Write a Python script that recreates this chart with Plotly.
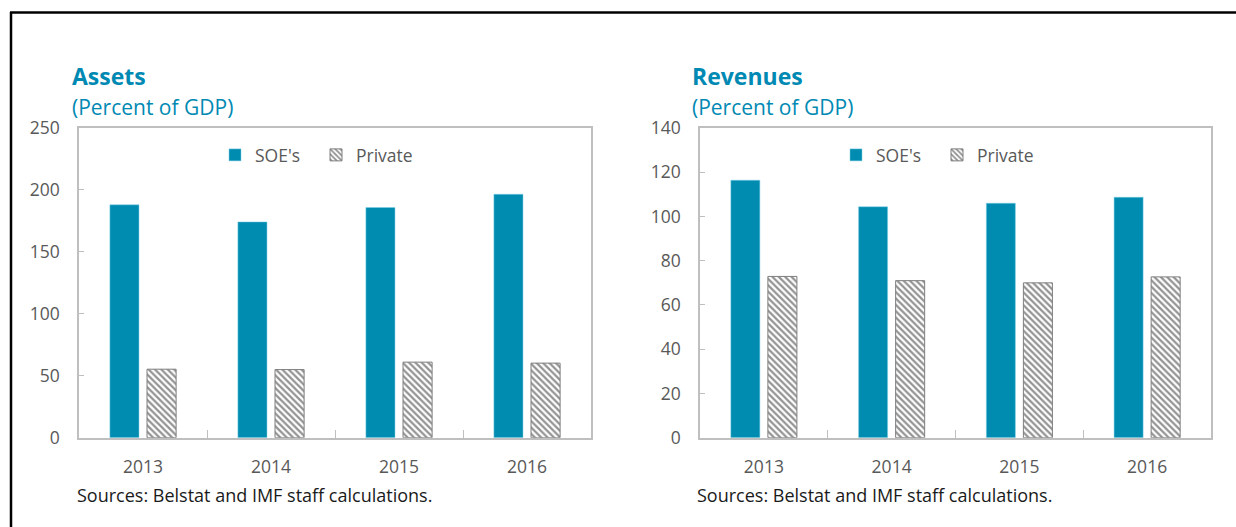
import plotly.graph_objects as go

W, H = 1236, 527

years = ["2013", "2014", "2015", "2016"]
assets_soe = [188, 174.2, 185.8, 196.5]
assets_private = [55.3, 55.0, 61.0, 60.2]
rev_soe = [116.4, 104.4, 106.0, 108.7]
rev_private = [72.9, 71.0, 70.0, 72.7]

SOE_COLOR = "#008BB0"
TITLE_COLOR = "#0089B3"
FONT = "Open Sans, Noto Sans, sans-serif"

def px(x):
    return x / W

def py(y):
    return 1 - y / H

fig = go.Figure()

pattern = dict(shape="\\", fgcolor="#262626", bgcolor="white", size=4.5, solidity=0.5)
soe_marker = dict(color=SOE_COLOR, line=dict(color="#7fd0e6", width=0.5))
priv_marker = dict(color="white", pattern=pattern, line=dict(color="#7f7f7f", width=1))

fig.add_trace(go.Bar(x=years, y=assets_soe, name="SOE's", marker=soe_marker,
                     xaxis="x", yaxis="y", legend="legend"))
fig.add_trace(go.Bar(x=years, y=assets_private, name="Private", marker=priv_marker,
                     xaxis="x", yaxis="y", legend="legend"))
fig.add_trace(go.Bar(x=years, y=rev_soe, name="SOE's", marker=soe_marker,
                     xaxis="x2", yaxis="y2", legend="legend2"))
fig.add_trace(go.Bar(x=years, y=rev_private, name="Private", marker=priv_marker,
                     xaxis="x2", yaxis="y2", legend="legend2"))

axis_common_x = dict(type="category", showline=True, mirror=True, linecolor="#BFBFBF", linewidth=1.5,
                     ticks="inside", tickson="boundaries", ticklen=8, tickcolor="#BFBFBF",
                     tickfont=dict(family=FONT, size=17.5, color="#595959"), ticklabelstandoff=13,
                     showgrid=False, zeroline=False, fixedrange=True, automargin=False)
axis_common_y = dict(showline=True, mirror=True, linecolor="#BFBFBF", linewidth=1.5,
                     ticks="inside", ticklen=5, tickcolor="#BFBFBF",
                     tickfont=dict(family=FONT, size=17.5, color="#595959"), ticklabelstandoff=14,
                     showgrid=False, zeroline=False, fixedrange=True, automargin=False)

y_dom = [py(437.7), py(128)]

legend_common = dict(orientation="h", xanchor="left", y=py(155), yanchor="middle",
                     font=dict(family=FONT, size=17.5, color="#595959"), bgcolor="rgba(0,0,0,0)",
                     entrywidth=56, entrywidthmode="pixels", traceorder="normal")

fig.update_layout(
    width=W, height=H,
    margin=dict(l=0, r=0, t=0, b=0, autoexpand=False),
    paper_bgcolor="white", plot_bgcolor="white",
    barmode="group", bargap=0.42, bargroupgap=0.216,
    font=dict(family=FONT, color="#595959"),
    xaxis=dict(axis_common_x, domain=[px(79), px(591)], anchor="y"),
    yaxis=dict(axis_common_y, domain=y_dom, anchor="x", range=[0, 250], dtick=50),
    xaxis2=dict(axis_common_x, domain=[px(700), px(1211)], anchor="y2"),
    yaxis2=dict(axis_common_y, domain=y_dom, anchor="x2", range=[0, 140], dtick=20),
    legend=dict(legend_common, x=px(215)),
    legend2=dict(legend_common, x=px(836)),
    showlegend=True,
)

annotations = [
    dict(text="<b>Assets</b>", x=px(70), y=py(76), xanchor="left", yanchor="middle",
         font=dict(family=FONT, size=23, color=TITLE_COLOR)),
    dict(text="(Percent of GDP)", x=px(70), y=py(107), xanchor="left", yanchor="middle",
         font=dict(family=FONT, size=21, color=TITLE_COLOR)),
    dict(text="<b>Revenues</b>", x=px(690), y=py(76), xanchor="left", yanchor="middle",
         font=dict(family=FONT, size=23, color=TITLE_COLOR)),
    dict(text="(Percent of GDP)", x=px(690), y=py(107), xanchor="left", yanchor="middle",
         font=dict(family=FONT, size=21, color=TITLE_COLOR)),
    dict(text="Sources: Belstat and IMF staff calculations.", x=px(75), y=py(495), xanchor="left", yanchor="middle",
         font=dict(family=FONT, size=18, color="#1a1a1a")),
    dict(text="Sources: Belstat and IMF staff calculations.", x=px(695), y=py(495), xanchor="left", yanchor="middle",
         font=dict(family=FONT, size=18, color="#1a1a1a")),
]
for a in annotations:
    a.update(xref="paper", yref="paper", showarrow=False)
fig.update_layout(annotations=annotations)

fig.add_shape(type="line", xref="paper", yref="paper", x0=px(10), x1=1, y0=py(12.5), y1=py(12.5),
              line=dict(color="black", width=2.5))
fig.add_shape(type="line", xref="paper", yref="paper", x0=px(11), x1=px(11), y0=py(12), y1=0,
              line=dict(color="black", width=2.5))

fig.write_html("out.html", config={"displayModeBar": False},
               post_script="document.body.style.margin='0';document.body.style.overflow='hidden';")
